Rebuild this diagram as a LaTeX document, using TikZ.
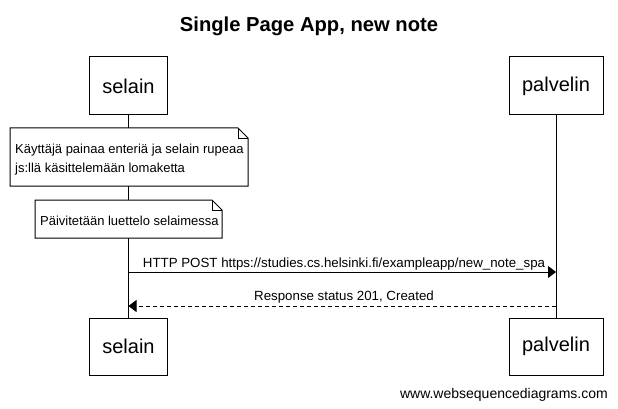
\documentclass[tikz,border=0pt]{standalone}
\usepackage{fontspec}
\setmainfont{Liberation Sans}
\usetikzlibrary{arrows.meta}
\begin{document}
\begin{tikzpicture}[x=1pt,y=-1pt,
  actor/.style={draw,line width=1pt,fill=white,inner sep=0pt,font=\fontsize{20}{24}\selectfont},
  notetext/.style={inner sep=0pt,anchor=base west,align=left,font=\fontsize{13}{19}\selectfont},
  msg/.style={inner sep=0pt,anchor=base,font=\fontsize{13.3}{16}\selectfont},
  notebox/.style={draw,line width=1pt,fill=white,line join=miter},
  req/.style={line width=1pt,-{Triangle[length=8pt,width=12pt]}},
  resp/.style={line width=1pt,dash pattern=on 4pt off 3pt,-{Triangle[length=8pt,width=12pt]}}
]
\useasboundingbox (0,0) rectangle (618,409);
\fill[white] (0,0) rectangle (618,409);

\node[inner sep=0pt,anchor=base,font=\fontsize{20.2}{24}\selectfont\bfseries] (title) at (309,32) {Single Page App, new note};

\node[actor,minimum width=78pt,minimum height=58pt] (s1) at (128.5,86) {selain};
\node[actor,minimum width=94pt,minimum height=58pt] (p1) at (556,86) {palvelin};
\node[actor,minimum width=78pt,minimum height=57pt] (s2) at (128.5,346.5) {selain};
\node[actor,minimum width=94pt,minimum height=57pt] (p2) at (556,346.5) {palvelin};

\draw[line width=1pt] (s1.south) -- (s2.north);
\draw[line width=1pt] (p1.south) -- (p2.north);

% note 1
\draw[notebox] (10,128) -- (238,128) -- (248,138) -- (248,186) -- (10,186) -- cycle;
\draw[line width=1pt] (238,128) -- (238,138) -- (248,138);
\node[notetext] (n1) at (15,172) {Käyttäjä painaa enteriä ja selain rupeaa\\js:llä käsittelemään lomaketta};

% note 2
\draw[notebox] (35,200) -- (212,200) -- (222,210) -- (222,238) -- (35,238) -- cycle;
\draw[line width=1pt] (212,200) -- (212,210) -- (222,210);
\node[notetext] (n2) at (40,225) {Päivitetään luettelo selaimessa};

\coordinate (a1s) at (128.5,272);
\coordinate (a1e) at (556,272);
\coordinate (a2s) at (556,306);
\coordinate (a2e) at (128.5,306);
\draw[req] (a1s) -- (a1e);
\node[msg] (l1) at (344,267) {HTTP POST https://studies.cs.helsinki.fi/exampleapp/new\_note\_spa};
\draw[resp] (a2s) -- (a2e);
\node[msg] (l2) at (344,300) {Response status 201, Created};

\node[inner sep=0pt,anchor=base east,font=\fontsize{14}{16}\selectfont] (wm) at (608,398) {www.websequencediagrams.com};
\end{tikzpicture}
\end{document}
